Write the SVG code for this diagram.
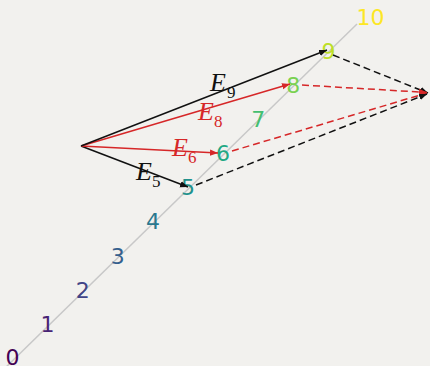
<svg xmlns="http://www.w3.org/2000/svg" width="430" height="366" viewBox="0 0 430 366">
<style>
.num{font-family:"DejaVu Sans",sans-serif;font-size:22px;}
.lab{font-family:"Liberation Serif","DejaVu Serif",serif;font-size:26px;font-style:italic;}
.sub{font-family:"Liberation Serif","DejaVu Serif",serif;font-size:17px;}
.k{stroke:#111;stroke-width:1.5;fill:none;}
.r{stroke:#d62728;stroke-width:1.5;fill:none;}
.d{stroke-dasharray:7,4;}
</style>
<defs>
<marker id="ak" markerUnits="userSpaceOnUse" markerWidth="10" markerHeight="8" refX="8" refY="4" orient="auto"><path d="M0,0.8 L8,4 L0,7.2 Z" fill="#111"/></marker>
<marker id="ar" markerUnits="userSpaceOnUse" markerWidth="10" markerHeight="8" refX="8" refY="4" orient="auto"><path d="M0,0.8 L8,4 L0,7.2 Z" fill="#d62728"/></marker>
</defs>
<rect width="430" height="366" fill="#f2f1ee"/>
<g id="axis">
<line x1="0" y1="373" x2="357" y2="24" stroke="#c8c8c8" stroke-width="1.5"/>
</g>
<g id="ticks" class="num">
<text id="n0" x="5.5" y="365" fill="#440154">0</text>
<text id="n1" x="40.6" y="331.7" fill="#482475">1</text>
<text id="n2" x="75.7" y="297.6" fill="#414487">2</text>
<text id="n3" x="110.8" y="263.5" fill="#355f8d">3</text>
<text id="n4" x="145.9" y="229.4" fill="#2a788e">4</text>
<text id="n5" x="181" y="195.3" fill="#21918c">5</text>
<text id="n6" x="216.1" y="161.2" fill="#22a884">6</text>
<text id="n7" x="251.2" y="127.1" fill="#44bf70">7</text>
<text id="n8" x="286.3" y="93" fill="#7ad151">8</text>
<text id="n9" x="321.4" y="58.9" fill="#bddf26">9</text>
<text id="n10" x="356.5" y="24.8" fill="#fde725">10</text>
</g>
<g id="connectors">
<line class="k" x1="81" y1="146" x2="188" y2="187" marker-end="url(#ak)"/>
<line class="r" x1="81" y1="146" x2="218" y2="153" marker-end="url(#ar)"/>
<line class="r" x1="81" y1="146" x2="290" y2="84" marker-end="url(#ar)"/>
<line class="k" x1="81" y1="146" x2="327" y2="50" marker-end="url(#ak)"/>
<line class="k d" x1="333" y1="55" x2="428" y2="93" marker-end="url(#ak)"/>
<line class="r d" x1="302" y1="85" x2="427" y2="92.5" marker-end="url(#ar)"/>
<line class="r d" x1="232" y1="151" x2="427" y2="93" marker-end="url(#ar)"/>
<line class="k d" x1="196" y1="185" x2="427" y2="94" marker-end="url(#ak)"/>
</g>
<g id="E5"><text class="lab" x="136" y="180" fill="#111">E</text><text class="sub" x="152" y="187" fill="#111">5</text></g>
<g id="E6"><text class="lab" x="172" y="156" fill="#d62728">E</text><text class="sub" x="188" y="163" fill="#d62728">6</text></g>
<g id="E8"><text class="lab" x="198" y="120" fill="#d62728">E</text><text class="sub" x="214" y="127" fill="#d62728">8</text></g>
<g id="E9"><text class="lab" x="210" y="91" fill="#111">E</text><text class="sub" x="227" y="98" fill="#111">9</text></g>
</svg>
